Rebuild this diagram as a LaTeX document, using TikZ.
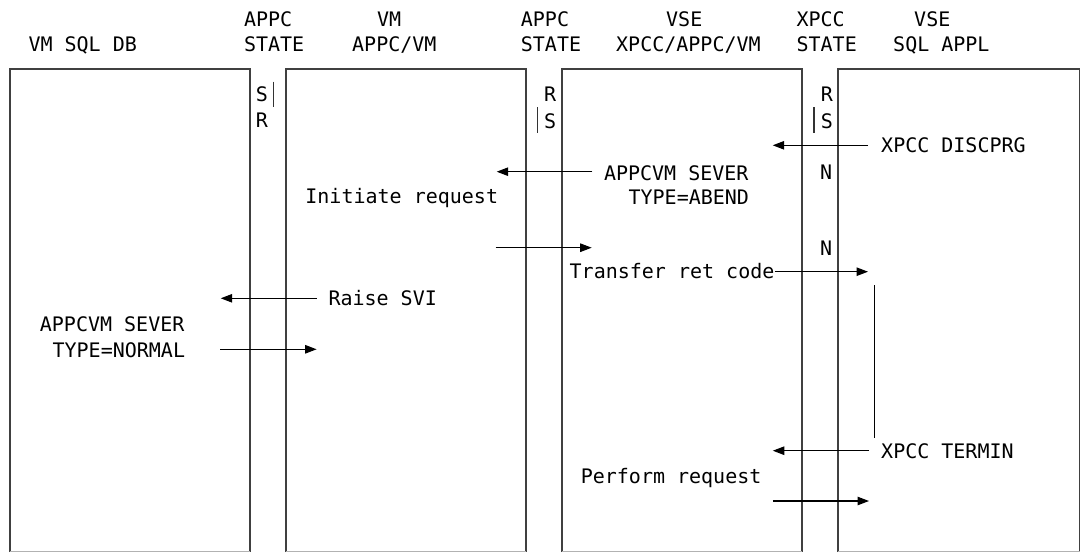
\documentclass[tikz,border=0pt]{standalone}
\usepackage{fontspec}
\setmainfont{DejaVu Sans Mono}
\usetikzlibrary{arrows.meta}
\tikzset{
  boxline/.style={line width=1.8pt, draw=black!75},
  boxbottom/.style={line width=1pt, draw=black!30},
  msg/.style={line width=1.1pt, draw=black, -{Triangle[length=11.5pt,width=8.5pt]}},
  plain/.style={line width=1.1pt, draw=black},
  statebar/.style={line width=1.1pt, draw=black!80},
  lbl/.style={anchor=base west, inner sep=0pt, font=\fontsize{20}{24}\selectfont},
}
\begin{document}
\begin{tikzpicture}[x=1pt,y=-1pt]
\useasboundingbox (0,0) rectangle (1081,552);
\fill[white] (0,0) rectangle (1081,552);

% boxes (open at bottom, faint bottom edge)
\foreach \xa/\xb in {9.7/250.3, 286/525.7, 562/802, 838/1079.5}{
  \draw[boxline] (\xa,552) -- (\xa,69.3) -- (\xb,69.3) -- (\xb,552);
  \draw[boxbottom] (\xa,551.5) -- (\xb,551.5);
}

% headers
\node[lbl] (h1) at (28.3,51.7) {VM SQL DB};
\node[lbl] (h2a) at (243.8,26) {APPC};
\node[lbl] (h2b) at (243.8,51.7) {STATE};
\node[lbl] (h3a) at (377,26) {VM};
\node[lbl] (h3b) at (352,51.7) {APPC/VM};
\node[lbl] (h4a) at (520.7,26) {APPC};
\node[lbl] (h4b) at (520.7,51.7) {STATE};
\node[lbl] (h5a) at (666,26) {VSE};
\node[lbl] (h5b) at (616,51.7) {XPCC/APPC/VM};
\node[lbl] (h6a) at (796.4,26) {XPCC};
\node[lbl] (h6b) at (796.4,51.7) {STATE};
\node[lbl] (h7a) at (914,26) {VSE};
\node[lbl] (h7b) at (893,51.7) {SQL APPL};

% state letters
\node[lbl] (s1a) at (255.7,101.7) {S};
\node[lbl] (s1b) at (255.7,127) {R};
\draw[statebar] (273.7,81.7) -- (273.7,106.7);
\node[lbl] (s2a) at (544,101.7) {R};
\node[lbl] (s2b) at (544,128) {S};
\draw[statebar] (537.7,107) -- (537.7,133);
\node[lbl] (s3a) at (820.7,101.7) {R};
\node[lbl] (s3b) at (820.7,128) {S};
\draw[statebar] (814,107) -- (814,133);
\node[lbl] (s3c) at (820,179.3) {N};
\node[lbl] (s3d) at (820,255) {N};

% message texts
\node[lbl] (discprg) at (881,152.3) {XPCC DISCPRG};
\node[lbl] (sevA1) at (603.8,180) {APPCVM SEVER};
\node[lbl] (sevA2) at (628.4,204) {TYPE=ABEND};
\node[lbl] (init) at (305.2,203.3) {Initiate request};
\node[lbl] (xfer) at (569.5,278) {Transfer ret code};
\node[lbl] (svi) at (328.3,305.7) {Raise SVI};
\node[lbl] (sevN1) at (39.7,331) {APPCVM SEVER};
\node[lbl] (sevN2) at (52.4,357.3) {TYPE=NORMAL};
\node[lbl] (termin) at (881,458.3) {XPCC TERMIN};
\node[lbl] (perf) at (580.6,483.3) {Perform request};

% arrow end points
\coordinate (a1s) at (592.3,171.7); \coordinate (a1e) at (496.7,171.7);
\coordinate (a2s) at (495.7,247.7); \coordinate (a2e) at (591.7,247.7);
\coordinate (a3s) at (868,145.3);   \coordinate (a3e) at (772.7,145.3);
\coordinate (a4s) at (xfer.base east); \coordinate (a4e) at (868,271.7);
\coordinate (a5s) at (316.6,298.3); \coordinate (a5e) at (220.7,298.3);
\coordinate (a6s) at (220,349.3);   \coordinate (a6e) at (316.6,349.3);
\coordinate (v1s) at (874.5,285);   \coordinate (v1e) at (874.5,438);
\coordinate (a8s) at (869,450.7);   \coordinate (a8e) at (772.8,450.7);
\coordinate (a9s) at (772.8,501);   \coordinate (a9e) at (869,501);

\draw[msg] (a1s) -- (a1e);
\draw[msg] (a2s) -- (a2e);
\draw[msg] (a3s) -- (a3e);
\draw[msg] (a4s |- a4e) -- (a4e);
\draw[msg] (a5s) -- (a5e);
\draw[msg] (a6s) -- (a6e);
\draw[plain] (v1s) -- (v1e);
\draw[msg] (a8s) -- (a8e);
\draw[msg] (a9s) -- (a9e);
\end{tikzpicture}
\end{document}
